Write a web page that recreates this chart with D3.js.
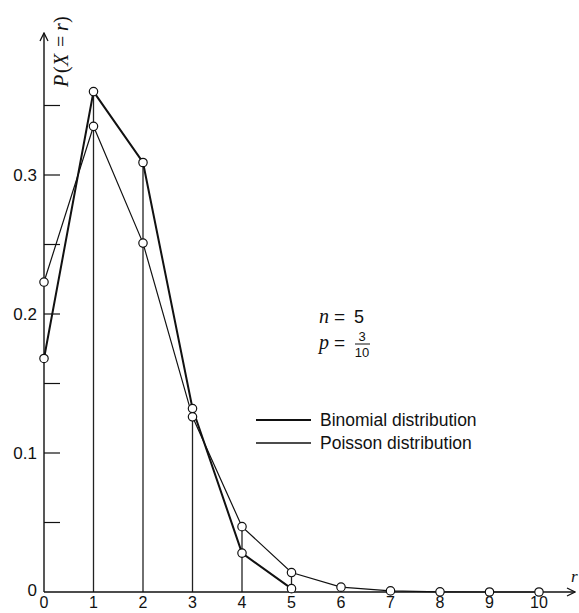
<!DOCTYPE html>
<meta charset="utf-8">
<style>
body { margin: 0; background: #fff; }
svg text { font-family: "Liberation Sans", Arial, sans-serif; fill: #111; }
svg text.math { font-family: "Liberation Serif", "DejaVu Serif", serif; }
</style>
<body>
<svg id="chart" width="579" height="613"></svg>
<script src="https://d3js.org/d3.v7.min.js"></script>
<script>
// values
var rValues = [0, 1, 2, 3, 4, 5, 6, 7, 8, 9, 10];
var binomial = [0.168, 0.360, 0.309, 0.132, 0.028, 0.0024];
var poisson = [0.223, 0.335, 0.251, 0.126, 0.047, 0.014, 0.0035, 0.0008, 0.0001, 0, 0];
var yTickLabels = [0, 0.1, 0.2, 0.3];
var yMinorTicks = [0.05, 0.15, 0.25, 0.35];
var legendNames = ["Binomial distribution", "Poisson distribution"];

var svg = d3.select("#chart");
var x = d3.scaleLinear().domain([0, 10]).range([44, 539]);
var y = d3.scaleLinear().domain([0, 0.1]).range([592, 453]);

// arrow head
svg.append("defs").append("marker")
  .attr("id", "arrow").attr("viewBox", "0 0 10 10")
  .attr("refX", 9).attr("refY", 5)
  .attr("markerWidth", 10).attr("markerHeight", 10)
  .attr("markerUnits", "userSpaceOnUse")
  .attr("orient", "auto")
  .append("path").attr("d", "M1,1 L9,5 L1,9")
  .attr("fill", "none").attr("stroke", "#111").attr("stroke-width", 1.3);

// vertical lines at each r
var vTop = rValues.slice(1, 6).map(function(r) { return Math.max(binomial[r], poisson[r]); });
svg.selectAll(".vline").data(rValues.slice(1, 6)).enter().append("line")
  .attr("x1", function(d) { return x(d); }).attr("x2", function(d) { return x(d); })
  .attr("y1", y(0)).attr("y2", function(d, i) { return y(vTop[i]); })
  .attr("stroke", "#222").attr("stroke-width", 1.3);

// axes
svg.append("line").attr("x1", x(0)).attr("x2", 575).attr("y1", y(0)).attr("y2", y(0))
  .attr("stroke", "#111").attr("stroke-width", 1.4).attr("marker-end", "url(#arrow)");
svg.append("line").attr("x1", x(0)).attr("x2", x(0)).attr("y1", y(0)).attr("y2", 33)
  .attr("stroke", "#111").attr("stroke-width", 1.4).attr("marker-end", "url(#arrow)");

// y ticks (inside, to the right)
svg.selectAll(".ytick").data(yTickLabels.slice(1).concat(yMinorTicks)).enter().append("line")
  .attr("x1", x(0)).attr("x2", x(0) + 16)
  .attr("y1", function(d) { return y(d); }).attr("y2", function(d) { return y(d); })
  .attr("stroke", "#111").attr("stroke-width", 1.2);
svg.selectAll(".ylab").data(yTickLabels).enter().append("text")
  .attr("x", 37)
  .attr("y", function(d) { return d === 0 ? y(d) + 4 : y(d) + 6; })
  .attr("text-anchor", "end").attr("font-size", 17)
  .text(function(d) { return d === 0 ? "0" : d3.format(".1f")(d); });

// x labels
svg.selectAll(".xlab").data(rValues).enter().append("text")
  .attr("x", function(d) { return x(d); }).attr("y", 608)
  .attr("text-anchor", "middle").attr("font-size", 16)
  .text(function(d) { return d; });

// axis titles
svg.append("text").attr("class", "math").attr("font-style", "italic").attr("font-size", 17)
  .attr("x", 571).attr("y", 582).text("r");
var yt = svg.append("g").attr("transform", "translate(68,0) rotate(-90)");
[["P", -87, true], ["(", -73, false], ["X", -66, true], ["=", -47, false], ["r", -31, true], [")", -23, false]]
  .forEach(function(p) {
    yt.append("text").attr("class", "math").attr("font-size", 20)
      .attr("font-style", p[2] ? "italic" : "normal")
      .attr("x", p[1]).attr("y", 0).text(p[0]);
  });

// series lines
var line = d3.line().x(function(d, i) { return x(rValues[i]); }).y(function(d) { return y(d); });
svg.append("path").datum(poisson).attr("d", line)
  .attr("fill", "none").attr("stroke", "#111").attr("stroke-width", 1.2);
svg.append("path").datum(binomial).attr("d", line)
  .attr("fill", "none").attr("stroke", "#111").attr("stroke-width", 2);

// points
[binomial, poisson].forEach(function(s) {
  svg.selectAll(null).data(s).enter().append("circle")
    .attr("cx", function(d, i) { return x(rValues[i]); })
    .attr("cy", function(d) { return y(d); })
    .attr("r", 4.2).attr("fill", "#fff").attr("stroke", "#111").attr("stroke-width", 1.2);
});

// parameters
var ann = svg.append("g");
function mt(t, xx, yy, size, ital, anchor) {
  ann.append("text").attr("class", ital ? "math" : null).attr("x", xx).attr("y", yy)
    .attr("font-size", size).attr("font-style", ital ? "italic" : "normal")
    .attr("text-anchor", anchor || "start").text(t);
}
mt("n", 319, 323, 20, true);
mt("=", 334, 323, 19, false);
mt("5", 354, 323, 18, false);
mt("p", 319, 349, 20, true);
mt("=", 334, 349, 19, false);
mt("3", 362, 341, 13, false, "middle");
ann.append("line").attr("x1", 355).attr("x2", 370).attr("y1", 344).attr("y2", 344)
  .attr("stroke", "#111").attr("stroke-width", 1);
mt("10", 362, 357, 13, false, "middle");

// legend
var lg = svg.selectAll(".leg").data(legendNames).enter().append("g")
  .attr("transform", function(d, i) { return "translate(256," + (420 + i * 23) + ")"; });
lg.append("line").attr("x1", 0).attr("x2", 55).attr("y1", 0).attr("y2", 0)
  .attr("stroke", "#111").attr("stroke-width", function(d, i) { return i === 0 ? 2 : 1.4; });
lg.append("text").attr("x", 64).attr("y", 6).attr("font-size", 17.5).text(function(d) { return d; });
</script>
</body>
